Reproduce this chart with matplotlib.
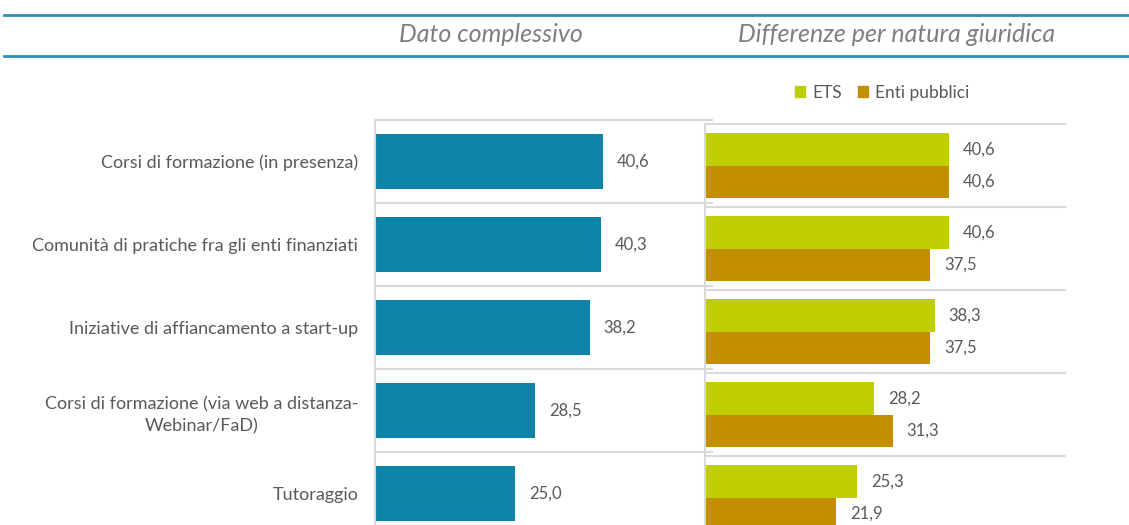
import numpy as np
import matplotlib
matplotlib.use("Agg")
import matplotlib.pyplot as plt
from matplotlib.lines import Line2D
from matplotlib.patches import Patch

plt.rcParams["font.family"] = ["Lato", "DejaVu Sans"]

categories = [
    "Corsi di formazione (in presenza)",
    "Comunità di pratiche fra gli enti finanziati",
    "Iniziative di affiancamento a start-up",
    "Corsi di formazione (via web a distanza-\nWebinar/FaD)",
    "Tutoraggio",
]
totale = [40.6, 40.3, 38.2, 28.5, 25.0]
ets = [40.6, 40.6, 38.3, 28.2, 25.3]
enti_pubblici = [40.6, 37.5, 37.5, 31.3, 21.9]

C_TOT = "#0d84a6"
C_ETS = "#bfce00"
C_ENTI = "#c18f00"
C_GRID = "#d9d9d9"
C_TEXT = "#595959"
C_LINE = "#2a8fb5"

W, H = 1129, 525
fig = plt.figure(figsize=(W / 100, H / 100), dpi=100)


def fx(px):
    return px / W


def fy(py):
    return 1 - py / H


def fmt(v):
    return f"{v:.1f}".replace(".", ",")


y = np.arange(len(categories))

# left panel: overall
ax1 = fig.add_axes([fx(375), fy(535), fx(712) - fx(375), fy(120) - fy(535)])
ax1.barh(y, totale, height=0.66, color=C_TOT)
for yi, v in zip(y, totale):
    ax1.annotate(fmt(v), (v, yi), xytext=(10, 0), textcoords="offset points",
                 va="center", ha="left", fontsize=12, color=C_TEXT)
ax1.set_yticks(y)
ax1.set_yticklabels(categories, fontsize=13, color=C_TEXT)
for t in ax1.get_yticklabels():
    t.set_multialignment("center")
    t.set_linespacing(1.45)

# right panel: by legal nature
ax2 = fig.add_axes([fx(705), fy(539), fx(1065) - fx(705), fy(124) - fy(539)])
h = 0.39
ax2.barh(y - h / 2, ets, height=h, color=C_ETS)
ax2.barh(y + h / 2, enti_pubblici, height=h, color=C_ENTI)
for yi, v in zip(y, ets):
    ax2.annotate(fmt(v), (v, yi - h / 2), xytext=(10, 0), textcoords="offset points",
                 va="center", ha="left", fontsize=12, color=C_TEXT)
for yi, v in zip(y, enti_pubblici):
    ax2.annotate(fmt(v), (v, yi + h / 2), xytext=(10, 0), textcoords="offset points",
                 va="center", ha="left", fontsize=12, color=C_TEXT)
ax2.set_yticks([])

for ax in (ax1, ax2):
    ax.set_xlim(0, 60)
    ax.set_ylim(len(categories) - 0.5, -0.5)
    ax.set_xticks([])
    for s in ("top", "right", "bottom"):
        ax.spines[s].set_visible(False)
    ax.spines["left"].set_color(C_GRID)
    ax.spines["left"].set_linewidth(1.5)
    ax.tick_params(axis="y", length=0, pad=12)
    for g in np.arange(-0.5, len(categories), 1.0):
        ax.axhline(g, color=C_GRID, lw=1.5, zorder=0, clip_on=False)
    ax.set_facecolor("none")

# header lines and titles
for py in (15, 55.5):
    fig.add_artist(Line2D([fx(4), 1], [fy(py), fy(py)], color=C_LINE, lw=2))
fig.text(fx(491), fy(35), "Dato complessivo", ha="center", va="center",
         fontsize=18, style="italic", color="#7f7f7f")
fig.text(fx(897), fy(35), "Differenze per natura giuridica", ha="center", va="center",
         fontsize=18, style="italic", color="#7f7f7f")

handles = [Patch(color=C_ETS, label="ETS"), Patch(color=C_ENTI, label="Enti pubblici")]
leg = fig.legend(handles=handles, loc="center", bbox_to_anchor=(fx(882), fy(93)),
                 ncol=2, frameon=False, fontsize=12.5, handlelength=0.6, handleheight=0.6,
                 handletextpad=0.4, columnspacing=0.9)
for t in leg.get_texts():
    t.set_color(C_TEXT)

fig.savefig("out.png", dpi=100)
